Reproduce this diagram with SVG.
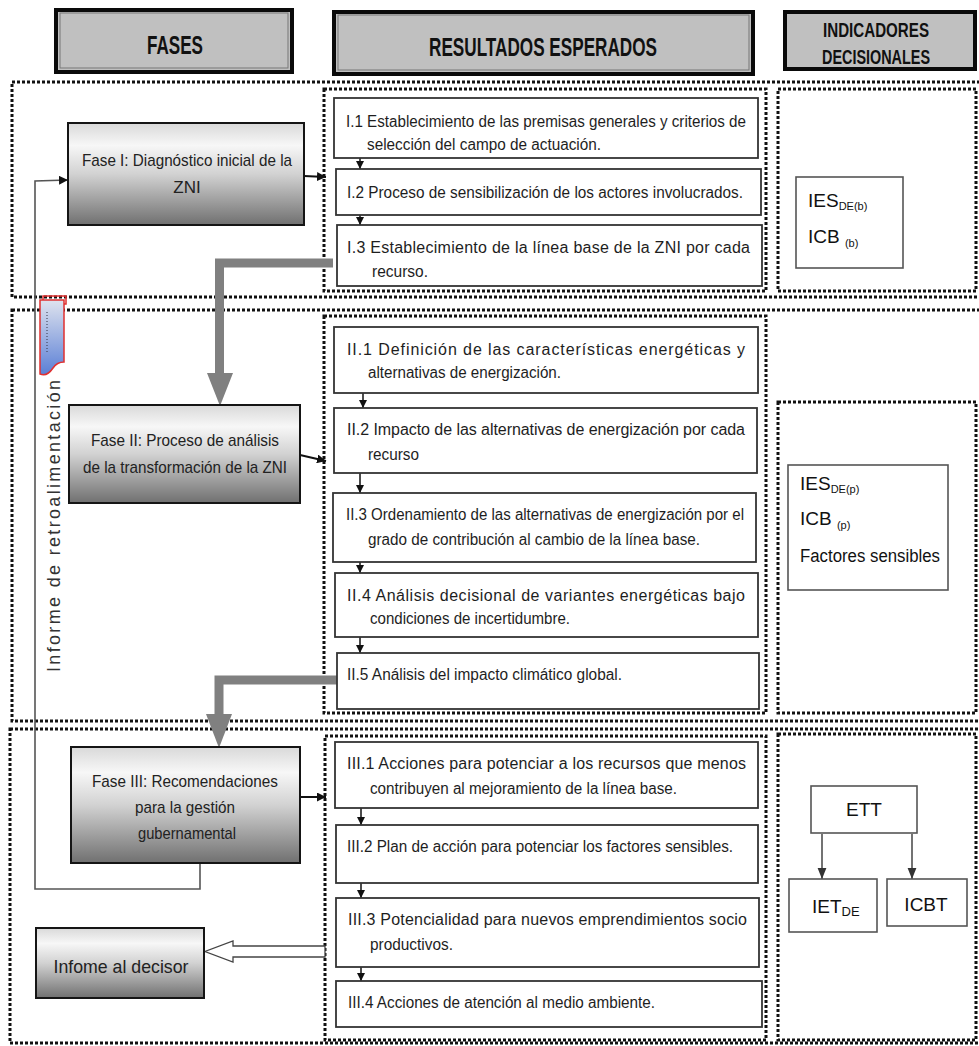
<svg xmlns="http://www.w3.org/2000/svg" width="979" height="1046" viewBox="0 0 979 1046">
<style>
.dot{fill:none;stroke:#111;stroke-width:3;stroke-dasharray:3 2}
.hdr{fill:#c0c0c0;stroke:#0a0a0a;stroke-width:4}
.hin{fill:none;stroke:#777;stroke-width:1}
.ht{font-family:"Liberation Sans Narrow","Liberation Sans",Arial,sans-serif;font-weight:bold;font-size:25px;fill:#111}
.hs{font-family:"Liberation Sans Narrow","Liberation Sans",Arial,sans-serif;font-weight:bold;font-size:20px;fill:#111}
.ph{stroke:#151515;stroke-width:2}
.res{fill:#fff;stroke:#333;stroke-width:1.8}
.t{font-family:"Liberation Sans Narrow","Liberation Sans",Arial,sans-serif;font-size:16px;fill:#1e1e1e}
.pt{font-family:"Liberation Sans Narrow","Liberation Sans",Arial,sans-serif;font-size:17px;fill:#222;text-anchor:middle}
.it{font-family:"Liberation Sans",Arial,sans-serif;font-size:19px;fill:#111}
.sub{font-family:"Liberation Sans Narrow","Liberation Sans",Arial,sans-serif;font-size:11px;fill:#111}
.ib{fill:#fff;stroke:#555;stroke-width:1.6}
.sa{stroke:#111;stroke-width:1.5;fill:none;marker-end:url(#ah)}
.pa{stroke:#111;stroke-width:2;fill:none;marker-end:url(#ah2)}
.ga{stroke:#808080;stroke-width:9;fill:none}
</style>
<defs>
<marker id="ah" viewBox="0 0 10 10" refX="10" refY="5" markerWidth="8" markerHeight="8" markerUnits="userSpaceOnUse" orient="auto"><path d="M0,0 L10,5 L0,10 z" fill="#111"/></marker>
<marker id="ah2" viewBox="0 0 10 10" refX="10" refY="5" markerWidth="9" markerHeight="9" markerUnits="userSpaceOnUse" orient="auto"><path d="M0,0 L10,5 L0,10 z" fill="#111"/></marker>
<marker id="ah3" viewBox="0 0 10 10" refX="10" refY="5" markerWidth="11" markerHeight="12" markerUnits="userSpaceOnUse" orient="auto"><path d="M0,1 L10,5 L0,9 z" fill="#333"/></marker>
<linearGradient id="pg" x1="0" y1="0" x2="0" y2="1">
<stop offset="0" stop-color="#d9d9d9"/>
<stop offset="0.22" stop-color="#f7f7f7"/>
<stop offset="0.5" stop-color="#d2d2d2"/>
<stop offset="1" stop-color="#707070"/>
</linearGradient>
<linearGradient id="bg" x1="0" y1="0" x2="0" y2="1">
<stop offset="0" stop-color="#dfe3ee"/>
<stop offset="1" stop-color="#5a7fd6"/>
</linearGradient>
</defs>

<!-- header -->
<g id="h-fases"><rect class="hdr" x="56" y="10" width="236" height="62"/><rect class="hin" x="60" y="13" width="228" height="55"/><text class="ht" x="175" y="54" text-anchor="middle" textLength="56" lengthAdjust="spacingAndGlyphs">FASES</text></g>
<g id="h-resultados"><rect class="hdr" x="334" y="12" width="419" height="62"/><rect class="hin" x="338" y="15" width="411" height="55"/><text class="ht" x="543" y="56" text-anchor="middle" textLength="228" lengthAdjust="spacingAndGlyphs">RESULTADOS ESPERADOS</text></g>
<g id="h-indicadores"><rect class="hdr" x="785" y="12" width="190" height="57"/><text class="hs" x="876" y="37" text-anchor="middle" textLength="106" lengthAdjust="spacingAndGlyphs">INDICADORES</text><text class="hs" x="876" y="64" text-anchor="middle" textLength="108" lengthAdjust="spacingAndGlyphs">DECISIONALES</text></g>

<!-- section frames -->
<g id="frames">
<rect class="dot" x="12" y="82" width="975" height="215"/>
<rect class="dot" x="12" y="310" width="975" height="411"/>
<rect class="dot" x="10" y="729" width="977" height="314"/>
<rect class="dot" x="324" y="89" width="442" height="202"/>
<rect class="dot" x="778" y="89" width="198" height="202"/>
<rect class="dot" x="324" y="316" width="442" height="397"/>
<rect class="dot" x="778" y="402" width="198" height="311"/>
<rect class="dot" x="325" y="736" width="441" height="304"/>
<rect class="dot" x="778" y="734" width="198" height="306"/>
</g>

<!-- decorative artifact -->
<g id="artifact">
<rect x="43" y="296" width="23" height="8" fill="none" stroke="#e03030" stroke-width="1.5"/>
<path d="M40,300 H64 V362 Q57,362 53,368 Q47,377 40,374 Z" fill="url(#bg)" stroke="#e03030" stroke-width="1.5"/>
<line x1="47" y1="312" x2="47" y2="352" stroke="#334" stroke-width="1" stroke-dasharray="1 2"/>
</g>

<!-- connectors -->
<g id="connectors">
<polyline points="200,863 200,889 35,889 35,181 68,180" fill="none" stroke="#555" stroke-width="1.6" marker-end="url(#ah2)"/>
<line class="pa" x1="304" y1="176" x2="326" y2="177"/>
<line class="pa" x1="300" y1="455" x2="326" y2="461"/>
<line class="pa" x1="300" y1="797" x2="326" y2="797"/>
<line class="sa" x1="360" y1="148" x2="360" y2="169"/>
<line class="sa" x1="360" y1="202" x2="360" y2="225"/>
<line class="sa" x1="363" y1="380" x2="363" y2="408"/>
<line class="sa" x1="360" y1="470" x2="360" y2="493"/>
<line class="sa" x1="360" y1="552" x2="360" y2="573"/>
<line class="sa" x1="360" y1="629" x2="360" y2="653"/>
<line class="sa" x1="361" y1="797" x2="361" y2="825"/>
<line class="sa" x1="361" y1="863" x2="361" y2="898"/>
<line class="sa" x1="361" y1="960" x2="361" y2="981"/>
<polyline class="ga" points="333,263 219.5,263 219.5,376"/>
<polygon points="207,373 233,373 220,406" fill="#808080"/>
<polyline class="ga" points="338,680 219,680 219,716"/>
<polygon points="206,714 232,714 219,748" fill="#808080"/>
<polygon points="325,946 233,946 233,941 205,951.5 233,962 233,957 325,957" fill="#fff" stroke="#444" stroke-width="1.3"/>
<line x1="822" y1="834" x2="822" y2="879" stroke="#444" stroke-width="1.5" marker-end="url(#ah3)"/>
<line x1="912" y1="834" x2="912" y2="879" stroke="#444" stroke-width="1.5" marker-end="url(#ah3)"/>
</g>

<!-- feedback label -->
<text transform="translate(60,526) rotate(-90)" text-anchor="middle" font-family="Liberation Sans, Arial, sans-serif" font-size="18" fill="#333" textLength="292" lengthAdjust="spacing">Informe de retroalimentación</text>

<!-- phases -->
<g id="fase1"><rect class="ph" x="68" y="123" width="236" height="102" fill="url(#pg)"/><text class="pt" x="187" y="166" textLength="210" lengthAdjust="spacingAndGlyphs">Fase I: Diagnóstico inicial de la</text><text class="pt" x="187" y="193">ZNI</text></g>
<g id="fase2"><rect class="ph" x="69" y="405" width="231" height="98" fill="url(#pg)"/><text class="pt" x="185" y="446" textLength="188" lengthAdjust="spacingAndGlyphs">Fase II: Proceso de análisis</text><text class="pt" x="185" y="473" textLength="204" lengthAdjust="spacingAndGlyphs">de la transformación de la ZNI</text></g>
<g id="fase3"><rect class="ph" x="71" y="747" width="229" height="116" fill="url(#pg)"/><text class="pt" x="185" y="787" textLength="186" lengthAdjust="spacingAndGlyphs">Fase III: Recomendaciones</text><text class="pt" x="185" y="813" textLength="100" lengthAdjust="spacingAndGlyphs">para la gestión</text><text class="pt" x="187" y="839" textLength="98" lengthAdjust="spacingAndGlyphs">gubernamental</text></g>
<g id="informe-decisor"><rect class="ph" x="36" y="928" width="168" height="70" fill="url(#pg)"/><text class="pt" x="121" y="973" style="font-size:19px" textLength="135" lengthAdjust="spacingAndGlyphs">Infome al decisor</text></g>

<!-- results phase I -->
<g id="r-I1"><rect class="res" x="334" y="98" width="424" height="60"/><text class="t" x="346" y="127" textLength="400" lengthAdjust="spacingAndGlyphs">I.1 Establecimiento de las premisas generales y criterios de</text><text class="t" x="367" y="150" textLength="234" lengthAdjust="spacingAndGlyphs">selección del campo de actuación.</text></g>
<g id="r-I2"><rect class="res" x="336" y="169" width="425" height="46"/><text class="t" x="347" y="198" textLength="396" lengthAdjust="spacingAndGlyphs">I.2 Proceso de sensibilización de los actores involucrados.</text></g>
<g id="r-I3"><rect class="res" x="337" y="225" width="425" height="61"/><text class="t" x="347" y="253" textLength="403" lengthAdjust="spacing">I.3 Establecimiento de la línea base de la ZNI por cada</text><text class="t" x="372" y="277" textLength="56" lengthAdjust="spacingAndGlyphs">recurso.</text></g>

<!-- results phase II -->
<g id="r-II1"><rect class="res" x="334" y="327" width="424" height="66"/><text class="t" x="347" y="355" textLength="398" lengthAdjust="spacing">II.1 Definición de las características energéticas y</text><text class="t" x="368" y="378" textLength="193" lengthAdjust="spacingAndGlyphs">alternativas de energización.</text></g>
<g id="r-II2"><rect class="res" x="334" y="408" width="423" height="65"/><text class="t" x="347" y="435" textLength="398" lengthAdjust="spacing">II.2 Impacto de las alternativas de energización por cada</text><text class="t" x="368" y="460" textLength="51" lengthAdjust="spacingAndGlyphs">recurso</text></g>
<g id="r-II3"><rect class="res" x="333" y="493" width="423" height="69"/><text class="t" x="346" y="520" textLength="398" lengthAdjust="spacingAndGlyphs">II.3 Ordenamiento de las alternativas de energización por el</text><text class="t" x="368" y="545" textLength="332" lengthAdjust="spacingAndGlyphs">grado de contribución al cambio de la línea base.</text></g>
<g id="r-II4"><rect class="res" x="335" y="573" width="423" height="64"/><text class="t" x="347" y="601" textLength="398" lengthAdjust="spacing">II.4 Análisis decisional de variantes energéticas bajo</text><text class="t" x="370" y="624" textLength="200" lengthAdjust="spacingAndGlyphs">condiciones de incertidumbre.</text></g>
<g id="r-II5"><rect class="res" x="337" y="653" width="422" height="56"/><text class="t" x="347" y="680" textLength="275" lengthAdjust="spacingAndGlyphs">II.5 Análisis del impacto climático global.</text></g>

<!-- results phase III -->
<g id="r-III1"><rect class="res" x="335" y="742" width="423" height="66"/><text class="t" x="347" y="769" textLength="399" lengthAdjust="spacing">III.1 Acciones para potenciar a los recursos que menos</text><text class="t" x="370" y="794" textLength="307" lengthAdjust="spacingAndGlyphs">contribuyen al mejoramiento de la línea base.</text></g>
<g id="r-III2"><rect class="res" x="336" y="825" width="422" height="58"/><text class="t" x="347" y="852" textLength="386" lengthAdjust="spacingAndGlyphs">III.2 Plan de acción para potenciar los factores sensibles.</text></g>
<g id="r-III3"><rect class="res" x="336" y="898" width="423" height="69"/><text class="t" x="348" y="925" textLength="399" lengthAdjust="spacing">III.3 Potencialidad para nuevos emprendimientos socio</text><text class="t" x="370" y="950" textLength="83" lengthAdjust="spacingAndGlyphs">productivos.</text></g>
<g id="r-III4"><rect class="res" x="336" y="981" width="426" height="46"/><text class="t" x="348" y="1008" textLength="307" lengthAdjust="spacingAndGlyphs">III.4 Acciones de atención al medio ambiente.</text></g>

<!-- indicators -->
<g id="ind-1"><rect class="ib" x="796" y="177" width="107" height="91"/><text class="it" x="808" y="207">IES<tspan class="sub" dy="3">DE(b)</tspan></text><text class="it" x="808" y="243">ICB <tspan class="sub" dy="4">(b)</tspan></text></g>
<g id="ind-2"><rect class="ib" x="788" y="465" width="160" height="125"/><text class="it" x="800" y="490">IES<tspan class="sub" dy="3">DE(p)</tspan></text><text class="it" x="800" y="525">ICB <tspan class="sub" dy="4">(p)</tspan></text><text class="it" x="800" y="562" style="font-size:18px" textLength="140" lengthAdjust="spacingAndGlyphs">Factores sensibles</text></g>
<g id="ind-ett"><rect class="ib" x="811" y="786" width="106" height="47"/><text class="it" x="864" y="816" text-anchor="middle">ETT</text></g>
<g id="ind-ietde"><rect class="ib" x="789" y="879" width="88" height="53"/><text class="it" x="812" y="913">IET<tspan class="sub" dy="3" style="font-size:13px">DE</tspan></text></g>
<g id="ind-icbt"><rect class="ib" x="887" y="879" width="80" height="47"/><text class="it" x="926" y="911" text-anchor="middle">ICBT</text></g>
</svg>
